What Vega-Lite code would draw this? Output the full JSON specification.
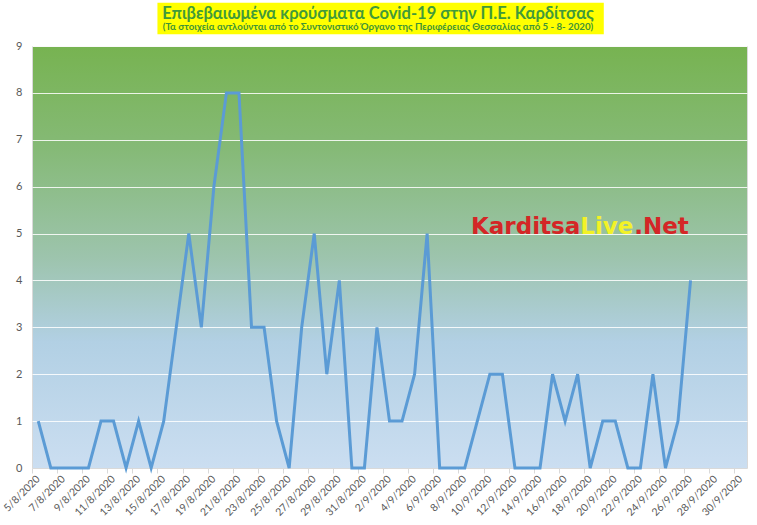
{
  "$schema": "https://vega.github.io/schema/vega-lite/v6.json",
  "width": 715,
  "height": 422,
  "autosize": {"type": "none"},
  "padding": {"left": 32, "top": 46, "right": 10, "bottom": 57},
  "background": "#ffffff",
  "config": {
    "view": {
      "stroke": "#d9d9d9",
      "fill": {
        "gradient": "linear",
        "x1": 0, "y1": 0, "x2": 0, "y2": 1,
        "stops": [
          {"offset": 0, "color": "#77b351"},
          {"offset": 0.25, "color": "#86ba78"},
          {"offset": 0.5, "color": "#9dc4ad"},
          {"offset": 0.7, "color": "#b2d0e4"},
          {"offset": 1, "color": "#cbdef1"}
        ]
      }
    },
    "axis": {"labelFont": "Lato", "labelFontSize": 11, "labelColor": "#595959", "title": null},
    "axisX": {
      "labelAngle": -45,
      "labelAlign": "right",
      "labelBaseline": "middle",
      "labelFontSize": 10.5,
      "labelPadding": 4,
      "labelOffset": 6,
      "labelOverlap": false,
      "labelBound": false,
      "labelFlush": false,
      "grid": false,
      "domainColor": "#d9d9d9",
      "tickColor": "#d9d9d9",
      "tickSize": 5
    },
    "axisY": {
      "domain": false,
      "ticks": false,
      "labelPadding": 10,
      "gridColor": "#ffffff",
      "gridOpacity": 0.85,
      "gridWidth": 1
    }
  },
  "datasets": {
    "cases": [
      {"date": "2020-08-05", "cases": 1},
      {"date": "2020-08-06", "cases": 0},
      {"date": "2020-08-07", "cases": 0},
      {"date": "2020-08-08", "cases": 0},
      {"date": "2020-08-09", "cases": 0},
      {"date": "2020-08-10", "cases": 1},
      {"date": "2020-08-11", "cases": 1},
      {"date": "2020-08-12", "cases": 0},
      {"date": "2020-08-13", "cases": 1},
      {"date": "2020-08-14", "cases": 0},
      {"date": "2020-08-15", "cases": 1},
      {"date": "2020-08-16", "cases": 3},
      {"date": "2020-08-17", "cases": 5},
      {"date": "2020-08-18", "cases": 3},
      {"date": "2020-08-19", "cases": 6},
      {"date": "2020-08-20", "cases": 8},
      {"date": "2020-08-21", "cases": 8},
      {"date": "2020-08-22", "cases": 3},
      {"date": "2020-08-23", "cases": 3},
      {"date": "2020-08-24", "cases": 1},
      {"date": "2020-08-25", "cases": 0},
      {"date": "2020-08-26", "cases": 3},
      {"date": "2020-08-27", "cases": 5},
      {"date": "2020-08-28", "cases": 2},
      {"date": "2020-08-29", "cases": 4},
      {"date": "2020-08-30", "cases": 0},
      {"date": "2020-08-31", "cases": 0},
      {"date": "2020-09-01", "cases": 3},
      {"date": "2020-09-02", "cases": 1},
      {"date": "2020-09-03", "cases": 1},
      {"date": "2020-09-04", "cases": 2},
      {"date": "2020-09-05", "cases": 5},
      {"date": "2020-09-06", "cases": 0},
      {"date": "2020-09-07", "cases": 0},
      {"date": "2020-09-08", "cases": 0},
      {"date": "2020-09-09", "cases": 1},
      {"date": "2020-09-10", "cases": 2},
      {"date": "2020-09-11", "cases": 2},
      {"date": "2020-09-12", "cases": 0},
      {"date": "2020-09-13", "cases": 0},
      {"date": "2020-09-14", "cases": 0},
      {"date": "2020-09-15", "cases": 2},
      {"date": "2020-09-16", "cases": 1},
      {"date": "2020-09-17", "cases": 2},
      {"date": "2020-09-18", "cases": 0},
      {"date": "2020-09-19", "cases": 1},
      {"date": "2020-09-20", "cases": 1},
      {"date": "2020-09-21", "cases": 0},
      {"date": "2020-09-22", "cases": 0},
      {"date": "2020-09-23", "cases": 2},
      {"date": "2020-09-24", "cases": 0},
      {"date": "2020-09-25", "cases": 1},
      {"date": "2020-09-26", "cases": 4}
    ],
    "single": [{}]
  },
  "layer": [
    {
      "data": {"name": "cases"},
      "mark": {"type": "line", "color": "#5b9bd5", "strokeWidth": 3, "strokeJoin": "miter"},
      "encoding": {
        "x": {
          "field": "date",
          "timeUnit": "utcyearmonthdate",
          "type": "temporal",
          "bandPosition": 0.5,
          "scale": {"type": "utc", "domain": [1596585600000, 1601510400000], "nice": false},
          "axis": {
            "values": [1596585600000, 1596758400000, 1596931200000, 1597104000000, 1597276800000, 1597449600000, 1597622400000, 1597795200000, 1597968000000, 1598140800000, 1598313600000, 1598486400000, 1598659200000, 1598832000000, 1599004800000, 1599177600000, 1599350400000, 1599523200000, 1599696000000, 1599868800000, 1600041600000, 1600214400000, 1600387200000, 1600560000000, 1600732800000, 1600905600000, 1601078400000, 1601251200000, 1601424000000],
            "labelExpr": "utcFormat(datum.value, '%-d/%-m/%Y')"
          }
        },
        "y": {
          "field": "cases",
          "type": "quantitative",
          "scale": {"domain": [0, 9], "nice": false},
          "axis": {"values": [0, 1, 2, 3, 4, 5, 6, 7, 8, 9]}
        }
      }
    },
    {
      "data": {"name": "single"},
      "mark": {"type": "rect", "color": "#ffff00", "clip": false},
      "encoding": {
        "x": {"datum": {"year": 2020, "month": 8, "date": 15, "utc": true}, "type": "temporal",
          "axis": {
            "values": [1596585600000, 1596758400000, 1596931200000, 1597104000000, 1597276800000, 1597449600000, 1597622400000, 1597795200000, 1597968000000, 1598140800000, 1598313600000, 1598486400000, 1598659200000, 1598832000000, 1599004800000, 1599177600000, 1599350400000, 1599523200000, 1599696000000, 1599868800000, 1600041600000, 1600214400000, 1600387200000, 1600560000000, 1600732800000, 1600905600000, 1601078400000, 1601251200000, 1601424000000],
            "labelExpr": "utcFormat(datum.value, '%-d/%-m/%Y')"
          }},
        "x2": {"datum": {"year": 2020, "month": 9, "date": 19, "hours": 14, "utc": true}},
        "y": {"datum": 9.92, "type": "quantitative", "axis": {"values": [0, 1, 2, 3, 4, 5, 6, 7, 8, 9]}},
        "y2": {"datum": 9.25}
      }
    },
    {
      "data": {"name": "single"},
      "mark": {"type": "text", "text": "Επιβεβαιωμένα κρούσματα Covid-19 στην Π.Ε. Καρδίτσας", "align": "center", "baseline": "alphabetic", "font": "Lato", "fontSize": 16.5, "fontWeight": "bold", "color": "#419a3a"},
      "encoding": {
        "x": {"datum": {"year": 2020, "month": 9, "date": 1, "hours": 14, "utc": true}, "type": "temporal",
          "axis": {
            "values": [1596585600000, 1596758400000, 1596931200000, 1597104000000, 1597276800000, 1597449600000, 1597622400000, 1597795200000, 1597968000000, 1598140800000, 1598313600000, 1598486400000, 1598659200000, 1598832000000, 1599004800000, 1599177600000, 1599350400000, 1599523200000, 1599696000000, 1599868800000, 1600041600000, 1600214400000, 1600387200000, 1600560000000, 1600732800000, 1600905600000, 1601078400000, 1601251200000, 1601424000000],
            "labelExpr": "utcFormat(datum.value, '%-d/%-m/%Y')"
          }},
        "y": {"datum": 9.58, "type": "quantitative", "axis": {"values": [0, 1, 2, 3, 4, 5, 6, 7, 8, 9]}}
      }
    },
    {
      "data": {"name": "single"},
      "mark": {"type": "text", "text": "(Τα στοιχεία αντλούνται από το Συντονιστικό Όργανο της Περιφέρειας Θεσσαλίας από 5 - 8- 2020)", "align": "center", "baseline": "alphabetic", "font": "Lato", "fontSize": 9.7, "fontWeight": "bold", "color": "#3f9436"},
      "encoding": {
        "x": {"datum": {"year": 2020, "month": 9, "date": 1, "hours": 14, "utc": true}, "type": "temporal",
          "axis": {
            "values": [1596585600000, 1596758400000, 1596931200000, 1597104000000, 1597276800000, 1597449600000, 1597622400000, 1597795200000, 1597968000000, 1598140800000, 1598313600000, 1598486400000, 1598659200000, 1598832000000, 1599004800000, 1599177600000, 1599350400000, 1599523200000, 1599696000000, 1599868800000, 1600041600000, 1600214400000, 1600387200000, 1600560000000, 1600732800000, 1600905600000, 1601078400000, 1601251200000, 1601424000000],
            "labelExpr": "utcFormat(datum.value, '%-d/%-m/%Y')"
          }},
        "y": {"datum": 9.34, "type": "quantitative", "axis": {"values": [0, 1, 2, 3, 4, 5, 6, 7, 8, 9]}}
      }
    },
    {
      "data": {"name": "single"},
      "mark": {"type": "text", "text": "Karditsa", "align": "right", "baseline": "alphabetic", "font": "DejaVu Sans", "fontWeight": "bold", "fontSize": 23, "color": "#d42626"},
      "encoding": {
        "x": {"datum": {"year": 2020, "month": 9, "date": 17, "hours": 17, "utc": true}, "type": "temporal",
          "axis": {
            "values": [1596585600000, 1596758400000, 1596931200000, 1597104000000, 1597276800000, 1597449600000, 1597622400000, 1597795200000, 1597968000000, 1598140800000, 1598313600000, 1598486400000, 1598659200000, 1598832000000, 1599004800000, 1599177600000, 1599350400000, 1599523200000, 1599696000000, 1599868800000, 1600041600000, 1600214400000, 1600387200000, 1600560000000, 1600732800000, 1600905600000, 1601078400000, 1601251200000, 1601424000000],
            "labelExpr": "utcFormat(datum.value, '%-d/%-m/%Y')"
          }},
        "y": {"datum": 5.0, "type": "quantitative", "axis": {"values": [0, 1, 2, 3, 4, 5, 6, 7, 8, 9]}}
      }
    },
    {
      "data": {"name": "single"},
      "mark": {"type": "text", "text": "Live", "align": "left", "baseline": "alphabetic", "font": "DejaVu Sans", "fontWeight": "bold", "fontSize": 23, "color": "#f2f227"},
      "encoding": {
        "x": {"datum": {"year": 2020, "month": 9, "date": 17, "hours": 17, "utc": true}, "type": "temporal",
          "axis": {
            "values": [1596585600000, 1596758400000, 1596931200000, 1597104000000, 1597276800000, 1597449600000, 1597622400000, 1597795200000, 1597968000000, 1598140800000, 1598313600000, 1598486400000, 1598659200000, 1598832000000, 1599004800000, 1599177600000, 1599350400000, 1599523200000, 1599696000000, 1599868800000, 1600041600000, 1600214400000, 1600387200000, 1600560000000, 1600732800000, 1600905600000, 1601078400000, 1601251200000, 1601424000000],
            "labelExpr": "utcFormat(datum.value, '%-d/%-m/%Y')"
          }},
        "y": {"datum": 5.0, "type": "quantitative", "axis": {"values": [0, 1, 2, 3, 4, 5, 6, 7, 8, 9]}}
      }
    },
    {
      "data": {"name": "single"},
      "mark": {"type": "text", "text": ".Net", "align": "left", "baseline": "alphabetic", "dx": 54, "font": "DejaVu Sans", "fontWeight": "bold", "fontSize": 23, "color": "#d42626"},
      "encoding": {
        "x": {"datum": {"year": 2020, "month": 9, "date": 17, "hours": 17, "utc": true}, "type": "temporal",
          "axis": {
            "values": [1596585600000, 1596758400000, 1596931200000, 1597104000000, 1597276800000, 1597449600000, 1597622400000, 1597795200000, 1597968000000, 1598140800000, 1598313600000, 1598486400000, 1598659200000, 1598832000000, 1599004800000, 1599177600000, 1599350400000, 1599523200000, 1599696000000, 1599868800000, 1600041600000, 1600214400000, 1600387200000, 1600560000000, 1600732800000, 1600905600000, 1601078400000, 1601251200000, 1601424000000],
            "labelExpr": "utcFormat(datum.value, '%-d/%-m/%Y')"
          }},
        "y": {"datum": 5.0, "type": "quantitative", "axis": {"values": [0, 1, 2, 3, 4, 5, 6, 7, 8, 9]}}
      }
    }
  ]
}
